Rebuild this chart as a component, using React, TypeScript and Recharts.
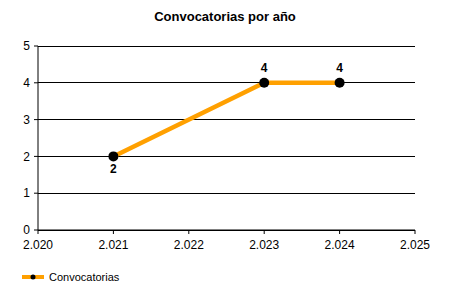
import { LineChart, Line, XAxis, YAxis, CartesianGrid, Legend, LabelList } from "recharts";

const years = [2021, 2023, 2024];
const convocatorias = [2, 4, 4];
const xTicks = [2020, 2021, 2022, 2023, 2024, 2025];
const yTicks = [0, 1, 2, 3, 4, 5];

const data = years.map((year, i) => ({ year, value: convocatorias[i] }));

const FONT = "'Liberation Sans', Arial, sans-serif";
const ORANGE = "#FFA000";

const formatYear = (n: number) =>
  `${Math.floor(n / 1000)}.${String(n % 1000).padStart(3, "0")}`;

// label under the point when the line goes up from it, else above
const PointLabel = (props: any) => {
  const { x, y, value, index } = props;
  const next = convocatorias[index + 1];
  const below = next !== undefined && next > value;
  return (
    <text
      x={x}
      y={below ? y + 17 : y - 11}
      textAnchor="middle"
      fontFamily={FONT}
      fontSize={12}
      fontWeight="bold"
      fill="#000"
    >
      {value}
    </text>
  );
};

const LegendContent = () => (
  <div style={{ display: "flex", alignItems: "center", fontFamily: FONT, fontSize: 11, color: "#000" }}>
    <svg width={24} height={10} style={{ marginRight: 4 }}>
      <line x1={1} y1={5} x2={23} y2={5} stroke={ORANGE} strokeWidth={4} />
      <circle cx={12} cy={5} r={2.5} fill="#000" />
    </svg>
    <span>Convocatorias</span>
  </div>
);

const App = () => {
  return (
    <div style={{ position: "absolute", left: 0, top: 0, width: 450, height: 300, background: "#fff" }}>
      <div
        style={{
          position: "absolute",
          top: 9,
          width: 450,
          textAlign: "center",
          fontFamily: FONT,
          fontSize: 13,
          fontWeight: "bold",
          color: "#000",
        }}
      >
        Convocatorias por año
      </div>
      <LineChart width={450} height={300} data={data} margin={{ top: 46, right: 35, left: 0, bottom: 24 }}>
        <CartesianGrid vertical={false} stroke="#000" strokeOpacity={1} shapeRendering="crispEdges" />
        <XAxis
          dataKey="year"
          type="number"
          domain={[2020, 2025]}
          ticks={xTicks}
          tickFormatter={formatYear}
          height={32}
          stroke="#000"
          tickSize={4}
          tickMargin={6}
          tick={{ fill: "#000", fontSize: 12, fontFamily: FONT }}
        />
        <YAxis
          type="number"
          domain={[0, 5]}
          ticks={yTicks}
          width={38}
          stroke="#000"
          tickSize={4}
          tickMargin={4}
          tick={{ fill: "#000", fontSize: 12, fontFamily: FONT }}
        />
        <Legend
          verticalAlign="bottom"
          align="left"
          content={<LegendContent />}
          wrapperStyle={{ left: 21, bottom: 15, height: 14 }}
        />
        <Line
          dataKey="value"
          name="Convocatorias"
          stroke={ORANGE}
          strokeWidth={4.5}
          dot={{ r: 5, fill: "#000", stroke: "#000", strokeWidth: 0 }}
          isAnimationActive={false}
        >
          <LabelList dataKey="value" content={<PointLabel />} />
        </Line>
      </LineChart>
    </div>
  );
};

export default App;
